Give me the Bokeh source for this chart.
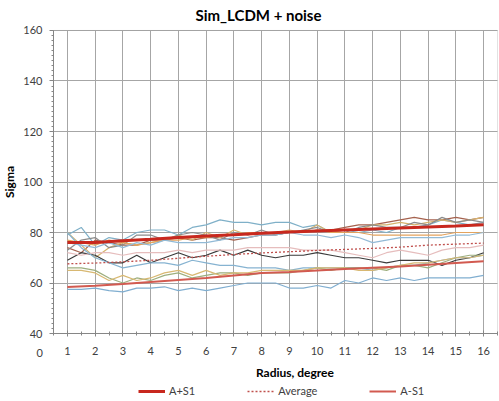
from bokeh.plotting import figure
from bokeh.models import (Range1d, SingleIntervalTicker, Label, Legend, LegendItem, BoxAnnotation)
from bokeh.embed import file_html
from bokeh.resources import INLINE

# ---- data ----
x_half = [1, 1.5, 2, 2.5, 3, 3.5, 4, 4.5, 5, 5.5, 6, 6.5, 7, 7.5, 8, 8.5,
          9, 9.5, 10, 10.5, 11, 11.5, 12, 12.5, 13, 13.5, 14, 14.5, 15, 15.5, 16]
x_int = [1, 2, 3, 4, 5, 6, 7, 8, 9, 10, 11, 12, 13, 14, 15, 16]

a_plus_s1 = [76.0, 76.0, 76.7, 77.3, 78.0, 78.6, 79.1, 79.7, 80.2, 80.6, 81.0, 81.4, 81.8, 82.2, 82.6, 83.1]
average = [67.6, 67.9, 68.4, 69.0, 69.8, 70.6, 71.3, 71.9, 72.4, 72.9, 73.3, 73.7, 74.2, 75.0, 75.4, 75.8]
a_minus_s1 = [58.4, 58.9, 59.6, 60.4, 61.2, 62.0, 63.0, 64.0, 64.4, 65.0, 65.5, 66.0, 66.5, 67.2, 67.9, 68.6]

sim_teal = [79, 82, 75, 78, 77, 80, 81, 81, 79, 82, 83, 85, 84, 84, 83, 84, 84, 82, 83, 80, 81, 80, 81, 80, 82, 82, 83, 85, 84, 83, 84]
sim_brown = [74, 72, 77, 76, 75, 75, 77, 77, 78, 77, 78, 78, 77, 78, 79, 79, 80, 80, 81, 81, 82, 83, 83, 84, 85, 86, 85, 85, 86, 85, 86]
sim_tan = [80, 75, 70, 74, 76, 75, 76, 77, 79, 77, 80, 78, 81, 79, 80, 80, 81, 80, 83, 80, 81, 81, 83, 83, 84, 83, 84, 85, 84, 85, 86]
sim_gray = [73, 77, 78, 74, 75, 79, 79, 77, 79, 80, 79, 77, 80, 79, 81, 79, 80, 81, 82, 80, 80, 82, 83, 82, 82, 84, 83, 86, 84, 85, 84]
sim_orange = [77, 76, 75, 77, 76, 75, 76, 77, 77, 78, 78, 79, 79, 80, 80, 80, 80, 80, 81, 80, 80, 80, 79, 79, 79, 79, 79, 79, 80, 80, 80]
sim_lblue = [76, 75, 74, 76, 74, 76, 75, 77, 76, 76, 76, 77, 78, 78, 79, 79, 80, 79, 79, 78, 79, 78, 76, 77, 78, 78, 78, 78, 79, 79, 80]
sim_black = [69, 72, 71, 68, 68, 71, 68, 70, 72, 70, 71, 73, 71, 73, 71, 70, 71, 71, 72, 71, 70, 70, 69, 68, 69, 69, 69, 67, 69, 70, 72]
sim_pink = [72, 71, 72, 72, 71, 72, 72, 72, 73, 72, 73, 73, 73, 74, 74, 74, 74, 73, 73, 73, 72, 71, 70, 72, 73, 72, 71, 73, 74, 74, 75]
sim_mblue = [80, 74, 70, 68, 66, 67, 68, 68, 67, 69, 68, 67, 67, 66, 66, 66, 65, 66, 66, 66, 66, 66, 65, 66, 67, 67, 68, 69, 70, 70, 71]
sim_green = [66, 66, 65, 62, 60, 62, 61, 63, 64, 62, 63, 64, 64, 63, 64, 64, 64, 65, 66, 65, 66, 66, 66, 65, 67, 67, 66, 68, 70, 71, 71]
sim_tan2 = [65, 65, 64, 61, 63, 61, 62, 64, 65, 63, 65, 63, 64, 64, 65, 65, 65, 65, 66, 66, 66, 65, 65, 66, 67, 68, 68, 69, 70, 70, 71]
sim_blue_low = [57.5, 57.5, 58, 57, 56.5, 58, 58, 58.5, 57, 58, 57, 58, 59, 60, 60, 60, 58, 58, 59, 58, 61, 60, 62, 61, 62, 61, 62, 62, 62, 62, 63]

sim_series = [sim_teal, sim_brown, sim_tan, sim_gray, sim_orange, sim_lblue,
              sim_black, sim_pink, sim_mblue, sim_green, sim_tan2, sim_blue_low]
sim_colors = ["#7FB0C8", "#A5624E", "#D6B36E", "#8C8C8C", "#E3A35E", "#92BAD6",
              "#3A3A3A", "#E6BDBD", "#86B3D1", "#9DAE7E", "#D8B872", "#80AED0"]

title_text = "Sim_LCDM + noise"
x_title = "Radius, degree"
y_title = "Sigma"
zero_label = "0"

# axis extents of the chart
X_MIN, X_MAX = 0.5, 16.5
Y_MIN, Y_MAX = 40, 160

FONT = "Lato"
GRID = "#A6A6A6"
AXIS = "#868686"

# the frame spans the whole figure; the axes are pinned at x=0.5 / y=40
p = figure(width=498, height=400, output_backend="svg", toolbar_location=None,
           x_range=Range1d(-1.4099, 16.536), y_range=Range1d(13.47, 171.88),
           min_border_left=0, min_border_right=0, min_border_top=0, min_border_bottom=0,
           background_fill_color="white", border_fill_color="white")

p.outline_line_color = None

# axes
p.xaxis.ticker = SingleIntervalTicker(interval=1, num_minor_ticks=2)
p.yaxis.ticker = SingleIntervalTicker(interval=20, num_minor_ticks=10)
p.xaxis.fixed_location = Y_MIN
p.yaxis.fixed_location = X_MIN
p.xaxis.bounds = (X_MIN, X_MAX)
p.yaxis.bounds = (Y_MIN, Y_MAX)
for ax in (p.xaxis[0], p.yaxis[0]):
    ax.axis_line_color = AXIS
    ax.major_tick_line_color = AXIS
    ax.minor_tick_line_color = AXIS
    ax.major_label_text_font = FONT
    ax.major_label_text_font_size = "11px"
    ax.major_label_text_color = "#404040"
p.xaxis.major_tick_in = 3
p.xaxis.major_tick_out = 3
p.xaxis.minor_tick_in = 2
p.xaxis.minor_tick_out = 2
p.xaxis.major_label_standoff = 10
p.yaxis.major_tick_in = 0
p.yaxis.major_tick_out = 4
p.yaxis.minor_tick_in = 0
p.yaxis.minor_tick_out = 2
p.yaxis.major_label_standoff = 7
p.yaxis.axis_label = y_title
p.yaxis.axis_label_text_font = FONT
p.yaxis.axis_label_text_font_size = "12px"
p.yaxis.axis_label_text_font_style = "bold"
p.yaxis.axis_label_text_color = "#000000"
p.yaxis.axis_label_standoff = 3

# grid lines limited to the chart area
g_props = p.xgrid[0].properties()
if "cross_bounds" in g_props:
    p.xgrid.cross_bounds = (Y_MIN, Y_MAX)
    p.ygrid.cross_bounds = (X_MIN, X_MAX)
    p.xgrid.grid_line_color = GRID
    p.ygrid.grid_line_color = GRID
else:
    p.xgrid.grid_line_color = None
    p.ygrid.grid_line_color = None
    gy = [60, 80, 100, 120, 140]
    p.segment(x0=x_int, y0=[Y_MIN] * len(x_int), x1=x_int, y1=[Y_MAX] * len(x_int),
              line_color=GRID, line_width=1, level="underlay")
    p.segment(x0=[X_MIN] * len(gy), y0=gy, x1=[X_MAX] * len(gy), y1=gy,
              line_color=GRID, line_width=1, level="underlay")

# chart border (top and right edges)
p.add_layout(BoxAnnotation(left=X_MIN, right=X_MAX, bottom=Y_MIN, top=Y_MAX,
                           fill_alpha=0, line_color="#A0A0A0", line_width=1, level="underlay"))

# simulated noisy lines
for ys, c in zip(sim_series, sim_colors):
    p.line(x_half, ys, line_color=c, line_width=1.2)

r_plus = p.line(x_int, a_plus_s1, line_color="#C8281E", line_width=3)
r_avg = p.line(x_int, average, line_color="#C0504D", line_width=1.3, line_dash="2 2")
r_minus = p.line(x_int, a_minus_s1, line_color="#D25A50", line_width=2)

# chart title
p.add_layout(Label(x=7.887, y=166.3, text=title_text, text_align="center", text_baseline="middle",
                   text_font=FONT, text_font_size="15px", text_font_style="bold",
                   text_color="#000000"))

# "0" tick label left of the y axis, as in the source
p.add_layout(Label(x=0, y=32.1, text=zero_label, text_align="center", text_baseline="middle",
                   text_font=FONT, text_font_size="11px", text_color="#404040"))

# x-axis title
p.add_layout(Label(x=9.2, y=24.55, text=x_title, text_align="center", text_baseline="middle",
                   text_font=FONT, text_font_size="12px", text_font_style="bold",
                   text_color="#000000"))

legend = Legend(items=[LegendItem(label="A+S1", renderers=[r_plus]),
                       LegendItem(label="Average", renderers=[r_avg]),
                       LegendItem(label="A-S1", renderers=[r_minus])],
                orientation="horizontal", location=(138, 3),
                padding=0, margin=0, spacing=52, glyph_width=27, glyph_height=12,
                label_height=12, label_standoff=4,
                label_text_font=FONT, label_text_font_size="11px", label_text_color="#404040",
                background_fill_alpha=0, border_line_alpha=0)
p.add_layout(legend, "center")

open("out.html", "w").write(file_html(p, INLINE))
